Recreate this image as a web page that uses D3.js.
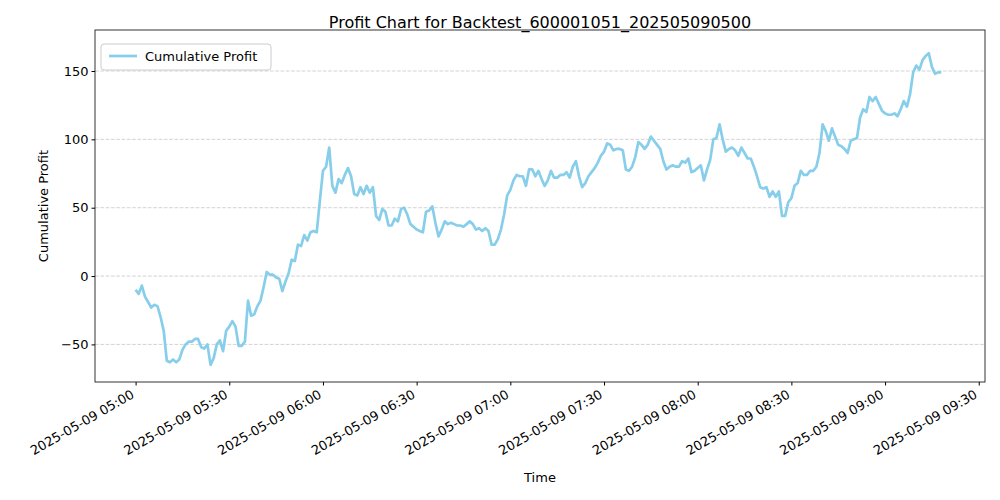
<!DOCTYPE html>
<html>
<head>
<meta charset="utf-8">
<script src="https://cdn.jsdelivr.net/npm/d3@7"></script>
<style>
  body { margin: 0; background: #fff; font-family: "DejaVu Sans", sans-serif; }
</style>
</head>
<body>
<svg id="chart" width="1000" height="500"></svg>
<script>
// data: one value per minute starting 2025-05-09 05:00
const startTime = new Date(2025, 4, 9, 5, 0);
const profit = [
  -10, -13, -7, -15, -19, -23, -21, -22, -30, -40,
  -62, -63, -61, -63, -61, -54, -50, -48, -48, -46,
  -46, -52, -53, -50, -65, -60, -50, -47, -55, -40,
  -37, -33, -37, -51, -51, -48, -18, -29, -28, -22,
  -18, -8, 3, 1, 1, -1, -2, -11, -4, 2,
  12, 11, 23, 22, 30, 26, 32, 33, 32, 55,
  77, 80, 94, 66, 61, 71, 68, 74, 79, 73,
  60, 59, 65, 60, 66, 61, 65, 44, 41, 49,
  47, 37, 37, 42, 40, 49, 50, 45, 38, 36,
  34, 33, 32, 47, 48, 51, 39, 29, 34, 40,
  38, 39, 38, 37, 37, 36, 38, 40, 38, 34,
  35, 33, 35, 33, 23, 23, 27, 34, 45, 59,
  63, 70, 74, 73, 73, 66, 78, 78, 73, 77,
  71, 66, 70, 77, 72, 72, 74, 74, 76, 72,
  80, 84, 73, 65, 68, 73, 76, 79, 83, 88,
  91, 97, 96, 92, 93, 93, 92, 78, 77, 80,
  87, 98, 96, 93, 96, 102, 99, 96, 93, 84,
  78, 80, 81, 80, 80, 84, 83, 86, 76, 77,
  79, 81, 70, 78, 85, 100, 101, 111, 100, 91,
  93, 94, 92, 88, 94, 90, 86, 86, 80, 73,
  65, 64, 65, 58, 62, 58, 62, 44, 44, 54,
  57, 66, 68, 77, 74, 74, 77, 77, 80, 90,
  111, 106, 99, 108, 102, 96, 95, 93, 90, 99,
  100, 101, 116, 122, 120, 131, 128, 131, 126, 121,
  119, 118, 118, 119, 117, 122, 128, 124, 133, 149,
  154, 151, 158, 161, 163, 153, 148, 149, 149
];
const yTicks = [-50, 0, 50, 100, 150];
const tickMinutes = [0, 30, 60, 90, 120, 150, 180, 210, 240, 270];

const series = profit.map((v, i) => ({ t: d3.timeMinute.offset(startTime, i), v }));

const svg = d3.select('#chart');
const m = { left: 95, right: 985, top: 30, bottom: 382 };

const x = d3.scaleTime()
  .domain([d3.timeMinute.offset(startTime, -12.8), d3.timeMinute.offset(startTime, 272.4)])
  .range([m.left, m.right]);
const y = d3.scaleLinear().domain([-77.5, 180]).range([m.bottom, m.top]);

// grid
svg.append('g').selectAll('line').data(yTicks).join('line')
  .attr('x1', m.left).attr('x2', m.right)
  .attr('y1', d => y(d)).attr('y2', d => y(d))
  .attr('stroke', '#b0b0b0').attr('stroke-opacity', 0.7)
  .attr('stroke-dasharray', '3.7,1.6').attr('stroke-width', 0.8);

// line
svg.append('path').datum(series)
  .attr('fill', 'none').attr('stroke', '#87ceeb').attr('stroke-width', 2.7)
  .attr('stroke-linejoin', 'round')
  .attr('d', d3.line().x(d => x(d.t)).y(d => y(d.v)));

// frame
svg.append('rect').attr('x', m.left).attr('y', m.top)
  .attr('width', m.right - m.left).attr('height', m.bottom - m.top)
  .attr('fill', 'none').attr('stroke', '#000').attr('stroke-width', 0.8);

// axes
const fmt = d3.timeFormat('%Y-%m-%d %H:%M');
const xAxis = svg.append('g').attr('transform', `translate(0,${m.bottom})`)
  .call(d3.axisBottom(x).tickValues(tickMinutes.map(k => d3.timeMinute.offset(startTime, k)))
    .tickFormat(fmt).tickSize(3.5).tickSizeOuter(0));
xAxis.select('.domain').remove();
xAxis.selectAll('text')
  .attr('font-size', 13).attr('font-family', 'DejaVu Sans').attr('fill', '#000')
  .attr('text-anchor', 'end').attr('y', 0).attr('dy', 0)
  .attr('transform', 'translate(-1,15) rotate(-30)');

const yAxis = svg.append('g').attr('transform', `translate(${m.left},0)`)
  .call(d3.axisLeft(y).tickValues(yTicks).tickSize(3.5).tickSizeOuter(0));
yAxis.select('.domain').remove();
yAxis.selectAll('text').attr('font-size', 13).attr('font-family', 'DejaVu Sans').attr('fill', '#000');

// labels
svg.append('text').attr('x', 540).attr('y', 28).attr('text-anchor', 'middle')
  .attr('font-size', 16).text('Profit Chart for Backtest_600001051_202505090500');
svg.append('text').attr('x', 540).attr('y', 482).attr('text-anchor', 'middle')
  .attr('font-size', 13).text('Time');
svg.append('text').attr('transform', 'translate(48,206) rotate(-90)').attr('text-anchor', 'middle')
  .attr('font-size', 13).text('Cumulative Profit');

// legend
const lg = svg.append('g').attr('transform', 'translate(101,44)');
lg.append('rect').attr('width', 170).attr('height', 26).attr('rx', 3)
  .attr('fill', '#fff').attr('fill-opacity', 0.8).attr('stroke', '#ccc');
lg.append('line').attr('x1', 8).attr('x2', 36).attr('y1', 12).attr('y2', 12)
  .attr('stroke', '#87ceeb').attr('stroke-width', 2.7);
lg.append('text').attr('x', 44).attr('y', 17).attr('font-size', 13).text('Cumulative Profit');
</script>
</body>
</html>
